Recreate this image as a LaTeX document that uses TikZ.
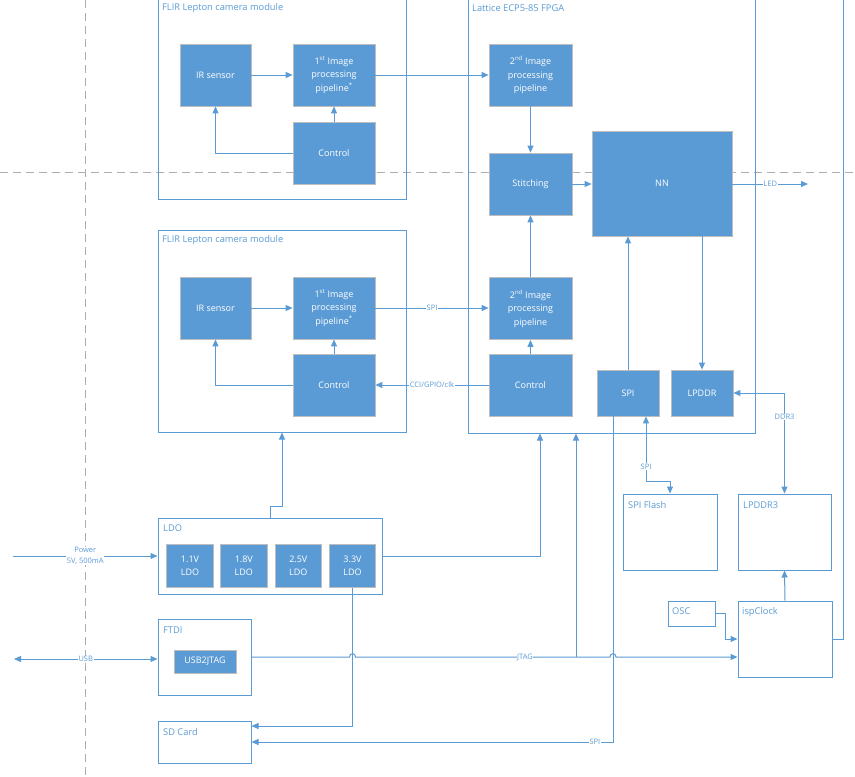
\documentclass[tikz,border=0pt]{standalone}
\usepackage{fontspec}
\setmainfont{Open Sans}
\usetikzlibrary{arrows.meta,calc}
\definecolor{bx}{HTML}{5B9BD5}
\definecolor{bxb}{HTML}{BDBDBD}
\definecolor{ln}{HTML}{5B9BD5}
\definecolor{dsh}{HTML}{ADADAD}
\begin{document}
\begin{tikzpicture}[x=1pt,y=-1pt,
  >={Triangle[length=7pt,width=6pt]},
  blk/.style={fill=bx,draw=bxb,line width=0.8pt,text=white,font=\fontsize{9}{13.5}\selectfont,align=center,inner sep=0pt},
  cont/.style={draw=ln,line width=1pt,inner sep=0pt},
  ttl/.style={text=ln,font=\fontsize{9.3}{11}\selectfont,anchor=west,inner sep=0pt},
  conn/.style={draw=ln,line width=1pt},
  lbl/.style={text=ln,font=\fontsize{7.5}{11}\selectfont,fill=white,inner sep=0.6pt,align=center},
  gdash/.style={draw=dsh,line width=1pt,dash pattern=on 8pt off 5pt}]
\path[use as bounding box] (0,0) rectangle (855,777);
\clip (0,0) rectangle (855,777);
\fill[white] (0,0) rectangle (855,777);
% dashed guide lines
\draw[gdash] (85.5,0) -- (85.5,777);
\draw[gdash] (0,172.5) -- (855,172.5);

% ---------- containers ----------
\node[cont,minimum width=248pt,minimum height=204pt] (m1) at (282,97) {};
\node[ttl] (m1t) at (162,8) {FLIR Lepton camera module};
\node[cont,minimum width=287pt,minimum height=438pt] (fpga) at (611.5,214) {};
\node[ttl] (fpgat) at (472,8) {Lattice ECP5-85 FPGA};
\node[cont,minimum width=248pt,minimum height=202pt] (m2) at (282,331) {};
\node[ttl] (m2t) at (162,240) {FLIR Lepton camera module};
\node[cont,minimum width=224pt,minimum height=76pt] (ldo) at (270,556) {};
\node[ttl] (ldot) at (163,528) {LDO};
\node[cont,minimum width=93pt,minimum height=76pt] (ftdi) at (204.5,657) {};
\node[ttl] (ftdit) at (163,630) {FTDI};
\node[cont,minimum width=93pt,minimum height=42pt] (sd) at (204.5,742) {};
\node[ttl] (sdt) at (163,732) {SD Card};
\node[cont,minimum width=94pt,minimum height=76pt] (flash) at (670,532) {};
\node[ttl] (flasht) at (628,505) {SPI Flash};
\node[cont,minimum width=93pt,minimum height=76pt] (lp3) at (784.5,532) {};
\node[ttl] (lp3t) at (743,505) {LPDDR3};
\node[cont,minimum width=94pt,minimum height=76pt] (isp) at (785,639) {};
\node[ttl] (ispt) at (742,612) {ispClock};
\node[cont,minimum width=47pt,minimum height=25pt] (osc) at (691.5,613.5) {};
\node[ttl] (osct) at (672,611) {OSC};

% ---------- blocks ----------
\node[blk,minimum width=71pt,minimum height=62pt] (ir1) at (215.5,75) {IR sensor};
\node[blk,minimum width=82pt,minimum height=62pt] (pp1) at (334,75) {1\textsuperscript{st} Image\\processing\\pipeline\textsuperscript{*}};
\node[blk,minimum width=82pt,minimum height=62pt] (ct1) at (334,153) {Control};

\node[blk,minimum width=83pt,minimum height=62pt] (pp2a) at (530.5,75) {2\textsuperscript{nd} Image\\processing\\pipeline};
\node[blk,minimum width=83pt,minimum height=62pt] (st) at (530.5,184) {Stitching};
\node[blk,minimum width=140pt,minimum height=105pt] (nn) at (662,183.5) {NN};
\node[blk,minimum width=83pt,minimum height=62pt] (pp2b) at (530.5,308.5) {2\textsuperscript{nd} Image\\processing\\pipeline};
\node[blk,minimum width=83pt,minimum height=62pt] (ctf) at (530.5,385) {Control};
\node[blk,minimum width=62pt,minimum height=46pt] (spi) at (628,393) {SPI};
\node[blk,minimum width=62pt,minimum height=46pt] (lpddr) at (702,393) {LPDDR};

\node[blk,minimum width=71pt,minimum height=62pt] (ir2) at (215.5,308) {IR sensor};
\node[blk,minimum width=82pt,minimum height=62pt] (pp3) at (334,308) {1\textsuperscript{st} Image\\processing\\pipeline\textsuperscript{*}};
\node[blk,minimum width=82pt,minimum height=62pt] (ct2) at (334,385) {Control};

\node[blk,minimum width=46.6pt,minimum height=43.3pt] (l1) at (190,565.7) {1.1V\\LDO};
\node[blk,minimum width=47pt,minimum height=43.3pt] (l2) at (243.8,565.7) {1.8V\\LDO};
\node[blk,minimum width=46pt,minimum height=43.3pt] (l3) at (298.3,565.7) {2.5V\\LDO};
\node[blk,minimum width=46.4pt,minimum height=43.3pt] (l4) at (352.5,565.7) {3.3V\\LDO};

\node[blk,minimum width=62pt,minimum height=23pt] (usbj) at (205,661.5) {USB2JTAG};

% ---------- free-end coordinates ----------
\coordinate (led) at (808,184);
\coordinate (pw) at (13,556);
\coordinate (usb) at (14,659);
\coordinate (sf) at (646,481);
\coordinate (jb) at (576,657);
\coordinate (ldoup) at (270,506);
\coordinate (clkr) at (843,639);
\coordinate (clktop) at (843,-5);

% ---------- connectors: top module ----------
\draw[conn,->] (ir1.east) -- (pp1.west);
\draw[conn,->] (ct1.north) -- (pp1.south);
\draw[conn,->] (ct1.west) -| (ir1.south);
\draw[conn,->] (pp1.east) -- (pp2a.west);

% FPGA internals
\draw[conn,->] (pp2a.south) -- (st.north);
\draw[conn,->] (st.east) -- (st.east -| nn.west);
\draw[conn,->] (nn.east |- st.east) -- (led) node[lbl,pos=0.5] {LED};
\draw[conn,->] (pp2b.north) -- (st.south);
\draw[conn,->] (ctf.north) -- (pp2b.south);
\draw[conn,->] (spi.north) -- (spi.north |- nn.south);
\draw[conn,->] (lpddr.north |- nn.south) -- (lpddr.north);

% bottom module
\draw[conn,->] (ir2.east) -- (pp3.west);
\draw[conn,->] (ct2.north) -- (pp3.south);
\draw[conn,->] (ct2.west) -| (ir2.south);
\draw[conn,->] (pp3.east) -- (pp3.east -| pp2b.west) node[lbl,midway] {SPI};
\draw[conn,->] (ctf.west) -- (ct2.east) node[lbl,midway] {CCI/GPIO/clk};

% memory / flash
\draw[conn,<->] (lpddr.east) -| (lp3.north) node[lbl,pos=0.62] {DDR3};
\draw[conn,<->] ([xshift=18pt]spi.south) -- (sf) node[lbl,pos=0.78] {SPI} -| (flash.north);
\draw[conn,->] ([xshift=-15pt]spi.south) |- (sd.east) node[lbl,pos=0.525] {SPI};

% power
\draw[conn,->] (pw) -- (ldo.west) node[lbl,pos=0.5] {Power\\5V, 500mA};
\draw[conn,->] (ldo.north) -- (ldoup) -| (m2.south);
\draw[conn,->] (ldo.east) -| ([xshift=-71.5pt]fpga.south);
\draw[conn,->] (l4.south) |- ([yshift=16pt]sd.east);

% USB / JTAG
\draw[conn,<->] (usb) -- (usb -| ftdi.west) node[lbl,pos=0.5] {USB};
\draw[conn,->] (ftdi.east) -- (349.5,657) .. controls (349.5,652.5) and (355.5,652.5) .. (355.5,657)
   -- (610,657) .. controls (610,652.5) and (616,652.5) .. (616,657) -- (ftdi.east -| isp.west);
\node[lbl] (jtagl) at (525,657) {JTAG};
\draw[conn,->] (jb) -- (jb |- fpga.south);

% clock
\draw[conn,->] (osc.east) -| ([xshift=-12pt]isp.west) -- (isp.west);
\draw[conn,->] (isp.north) -- (lp3.south);
\draw[conn] (isp.east) -- (clkr) -- (clktop);
\end{tikzpicture}
\end{document}
